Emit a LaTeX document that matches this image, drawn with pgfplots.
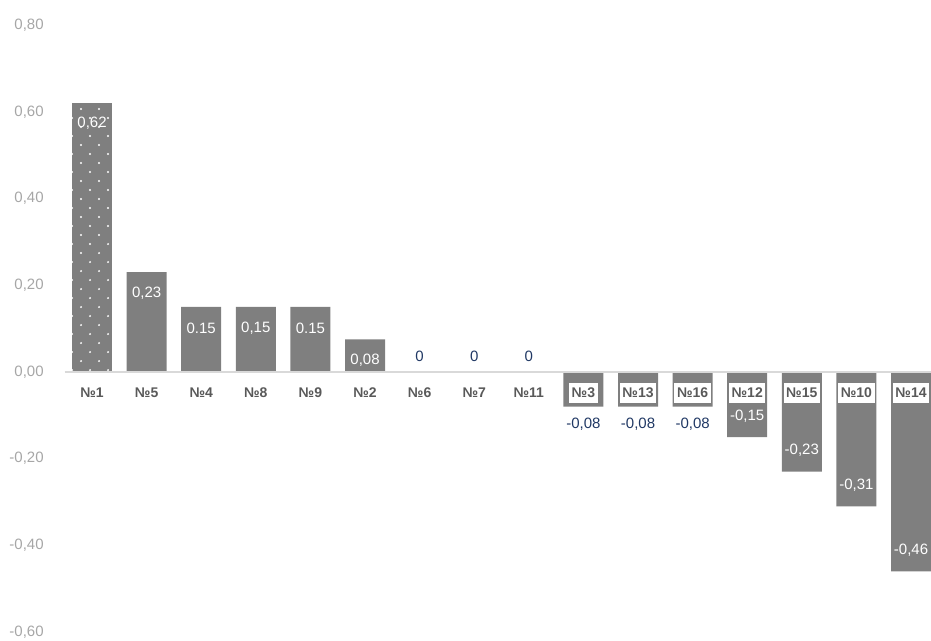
\documentclass[border=0pt]{standalone}
\usepackage{fontspec}
\setmainfont{Liberation Sans}
\usepackage{pgfplots}
\usepackage{pgfplotstable}
\pgfplotsset{compat=1.18}
\usetikzlibrary{patterns.meta}
\definecolor{barg}{HTML}{7F7F7F}
\definecolor{navy}{HTML}{203864}
\definecolor{cattxt}{HTML}{595959}
\definecolor{ticktxt}{HTML}{A6A6A6}
\definecolor{zeroline}{HTML}{D9D9D9}

\pgfplotstableread{
x y lab
0 0.62 0,62
}\first
\pgfplotstableread{
x y lab
1 0.23 0,23
2 0.15 0.15
3 0.15 0,15
4 0.15 0.15
5 0.075 0,08
}\pos
\pgfplotstableread{
x y lab
6 0 0
7 0 0
8 0 0
}\zeros
\pgfplotstableread{
x y lab
9 -0.08 -0,08
10 -0.08 -0,08
11 -0.08 -0,08
}\small
\pgfplotstableread{
x y lab
12 -0.15 -0,15
13 -0.23 -0,23
14 -0.31 -0,31
15 -0.46 -0,46
}\neg

\begin{document}
\begin{tikzpicture}
\begin{axis}[
  scale only axis,
  width=433pt, height=303.5pt,
  xmin=-0.5, xmax=15.366,
  ymin=-0.6, ymax=0.8,
  axis x line*=middle,
  axis y line*=left,
  y axis line style={draw=none},
  x axis line style={draw=zeroline, line width=0.6pt},
  major tick length=0pt,
  xtick={0,...,15},
  xticklabels={№1,№5,№4,№8,№9,№2,№6,№7,№11,№3,№13,№16,№12,№15,№10,№14},
  xticklabel style={font=\fontsize{7}{8}\selectfont\bfseries, text=cattxt, fill=white, inner xsep=1.3pt, inner ysep=2.6pt, anchor=center, yshift=-10.5pt},
  ytick={-0.6,-0.4,...,0.8},
  yticklabel style={font=\fontsize{7.5}{8}\selectfont, text=ticktxt, anchor=east, xshift=-7pt},
  /pgf/number format/assume math mode=true,
  /pgf/number format/.cd, fixed, fixed zerofill, precision=2, use comma,
  /pgfplots/.cd,
  axis on top,
  clip=false,
  point meta=explicit symbolic,
  nodes near coords,
  every node near coord/.append style={font=\fontsize{7.5}{8}\selectfont, anchor=center},
]
\addplot[ybar, bar width=20pt, bar shift=0pt, fill=barg, draw=none,
  postaction={pattern={Dots[distance=9pt, radius=0.55pt]}, pattern color=white},
  postaction={pattern={Dots[distance=9pt, radius=0.55pt, xshift=4.5pt, yshift=4.5pt]}, pattern color=white},
  every node near coord/.append style={text=white, yshift=-10pt}]
  table[x=x, y=y, meta=lab] {\first};
\addplot[ybar, bar width=20pt, bar shift=0pt, fill=barg, draw=none,
  every node near coord/.append style={text=white, yshift=-10.5pt}]
  table[x=x, y=y, meta=lab] {\pos};
\addplot[ybar, bar width=20pt, bar shift=0pt, fill=barg, draw=none,
  every node near coord/.append style={text=navy, yshift=8pt}]
  table[x=x, y=y, meta=lab] {\zeros};
\addplot[ybar, bar width=20pt, bar shift=0pt, fill=barg, draw=none,
  every node near coord/.append style={text=navy, yshift=-9pt}]
  table[x=x, y=y, meta=lab] {\small};
\addplot[ybar, bar width=20pt, bar shift=0pt, fill=barg, draw=none,
  every node near coord/.append style={text=white, yshift=10.5pt}]
  table[x=x, y=y, meta=lab] {\neg};
\end{axis}
\pgfresetboundingbox
\path ([xshift=-32.35pt, yshift=-4pt]current axis.south west) rectangle ([yshift=12.5pt]current axis.north east);
\end{tikzpicture}
\end{document}
